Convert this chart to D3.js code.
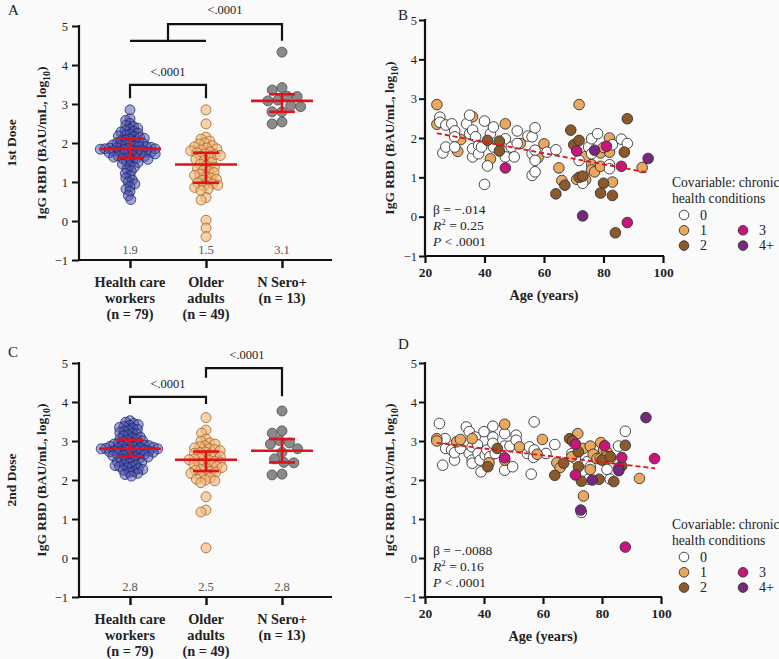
<!DOCTYPE html>
<html><head><meta charset="utf-8">
<script src="https://cdn.jsdelivr.net/npm/d3@7/dist/d3.min.js"></script>
<style>
body{margin:0;background:#fafafa;}
</style></head>
<body><svg id="c" width="779" height="659"></svg>
<script>
// ---------- DATA ----------
const groups = ["Health care workers","Older adults","N Sero+"];
const groupLines = [["Health care","workers","(n = 79)"],["Older","adults","(n = 49)"],["N Sero+","(n = 13)"]];
const yTicks = [-1,0,1,2,3,4,5];
const ageTicks = [20,40,60,80,100];

// Dose 1 (panel A)
const hcw1 = [2.85,2.62,2.58,2.5,2.45,2.42,2.38,2.35,2.32,2.3,2.28,2.25,2.22,2.2,2.18,2.16,2.14,2.12,2.1,2.08,2.06,2.04,2.02,2.0,1.99,1.97,1.96,1.95,1.93,1.92,1.91,1.9,1.89,1.88,1.87,1.86,1.85,1.85,1.84,1.83,1.82,1.81,1.8,1.79,1.78,1.77,1.76,1.75,1.74,1.72,1.71,1.7,1.68,1.67,1.65,1.64,1.62,1.61,1.6,1.58,1.55,1.52,1.5,1.46,1.42,1.38,1.33,1.28,1.22,1.15,1.1,1.05,1.0,0.95,0.88,0.82,0.76,0.65,0.55];
const old1 = [2.85,2.49,2.15,2.1,2.05,2.0,1.97,1.93,1.9,1.87,1.85,1.82,1.8,1.77,1.75,1.72,1.7,1.68,1.65,1.62,1.58,1.55,1.5,1.46,1.42,1.38,1.34,1.3,1.27,1.24,1.2,1.17,1.14,1.1,1.07,1.04,1.0,0.98,0.95,0.92,0.9,0.86,0.82,0.78,0.6,0.54,0.02,-0.18,-0.4];
const sero1 = [4.33,3.42,3.36,3.2,3.19,3.1,3.08,2.96,2.93,2.8,2.8,2.54,2.49];
const median1 = [1.85,1.45,3.08], q1_1 = [1.62,0.98,2.8], q3_1 = [2.12,1.75,3.25];
const label1 = ["1.9","1.5","3.1"];

// Dose 2 (panel C)
const hcw2 = [3.52,3.48,3.45,3.42,3.4,3.37,3.35,3.32,3.3,3.27,3.25,3.22,3.2,3.18,3.15,3.13,3.1,3.08,3.06,3.04,3.02,3.0,2.98,2.96,2.95,2.93,2.92,2.9,2.89,2.88,2.87,2.86,2.85,2.84,2.83,2.82,2.81,2.8,2.8,2.79,2.78,2.77,2.76,2.75,2.74,2.73,2.72,2.71,2.7,2.68,2.67,2.66,2.65,2.63,2.62,2.6,2.59,2.57,2.55,2.53,2.51,2.49,2.47,2.45,2.43,2.41,2.39,2.37,2.35,2.33,2.31,2.29,2.27,2.25,2.22,2.2,2.17,2.14,2.1];
const old2 = [3.6,3.28,3.2,3.05,3.0,2.95,2.92,2.88,2.85,2.82,2.8,2.78,2.75,2.72,2.7,2.68,2.65,2.62,2.6,2.58,2.56,2.54,2.52,2.5,2.48,2.46,2.44,2.42,2.4,2.37,2.35,2.32,2.3,2.27,2.25,2.22,2.2,2.17,2.14,2.1,2.06,2.02,2.0,1.98,1.93,1.57,1.23,1.18,0.26];
const sero2 = [3.77,3.26,3.2,3.01,2.95,2.92,2.8,2.71,2.54,2.45,2.44,2.15,2.13];
const median2 = [2.8,2.52,2.75], q1_2 = [2.6,2.23,2.45], q3_2 = [3.03,2.73,3.05];
const label2 = ["2.8","2.5","2.8"];

// Panel B: age, value, conditions category
const ageB = [24,24,36,32,31,47,42,52,60,58,71.8,65,66,74,76,76,77,71,74,79,79,82,82,80,83,93,
 25,25,26,27,27,29,30,30,30,34,35,35,36,36,36,37,38,38,39,40,40,41,42,43,43,47,47,47,49,50,51,51,54.6,56,56,56,57,57,57,57,61,64,71.8,73,75,76,76,78,82,82,83,86,88,
 41,45,45,64,67,69,70,71.8,71.8,73,80,79,83,84,88,87,
 47,71,81,86,88,
 77,73,95];
const valB = [2.85,2.35,2.54,1.96,1.66,2.36,1.47,1.86,1.85,1.5,2.85,1.24,0.92,1.53,1.32,1.19,1.14,0.95,0.94,1.62,1.28,2.0,1.64,1.76,0.88,1.25,
 2.53,2.4,1.62,1.77,2.33,2.36,2.18,2.03,1.77,2.36,2.58,2.11,1.52,1.73,2.2,2.03,1.81,1.6,1.77,2.43,0.82,1.29,2.11,2.28,1.77,1.98,1.64,1.52,1.77,1.52,2.18,1.86,2.05,2.03,1.6,1.05,2.26,1.69,1.43,1.14,1.64,1.7,1.43,0.85,1.77,1.98,1.6,2.11,1.32,1.22,1.83,1.97,1.86,
 1.94,1.92,1.67,0.58,0.8,2.2,1.83,1.94,1.0,1.03,0.85,0.6,0.54,-0.41,2.49,1.64,
 1.24,1.67,1.79,1.28,-0.15,
 1.69,0.02,1.48];
const catB = [1,1,1,1,1,1,1,1,1,1,1,1,1,1,1,1,1,1,1,1,1,1,1,1,1,1,
 0,0,0,0,0,0,0,0,0,0,0,0,0,0,0,0,0,0,0,0,0,0,0,0,0,0,0,0,0,0,0,0,0,0,0,0,0,0,0,0,0,0,0,0,0,0,0,0,0,0,0,0,0,
 2,2,2,2,2,2,2,2,2,2,2,2,2,2,2,2,
 3,3,3,3,3,
 4,4,4];
const fitB = {beta:"\u2212.014", r2:"0.25", x:[24,95], y:[2.12,1.12]};

// Panel D
const ageD = [24.9,26,26.8,27,29,30,30,32,34,35,35,36,36,36,37,37.8,38,38.7,39,40,40.4,41,42,43,43,43,43.8,47,47,47,48.8,49.7,50.9,50.9,54.7,55.4,56,56.8,57,57,61,64,69.8,71,75,76,75.5,81.7,82.8,85.6,87.9,73,
 24,24,30.7,32,36,47,47,52,41.7,59.8,58,64.7,65.8,69.8,71.8,73.7,73.7,76,76,77,78.3,79.6,79.4,80.5,81.7,82.8,92.7,81.7,
 41.3,44.5,67,64,69,70,72,72,73,79,80,82.8,84,86.7,87.9,
 47,71,71,80.9,86.7,85.7,87.9,97.8,
 72.8,76.7,85.7,94.9];
const valD = [3.45,2.38,3.06,2.81,2.77,2.51,2.7,2.81,3.36,3.24,2.68,2.85,2.51,2.43,3.1,2.9,2.68,2.51,2.21,3.24,2.64,2.77,2.6,3.38,3.1,2.94,2.68,3.19,2.87,2.25,2.87,2.34,3.15,3.02,2.68,2.85,2.15,2.58,3.49,2.77,2.68,2.91,2.68,2.55,2.47,2.34,2.02,2.27,2.02,2.87,3.25,1.17,
 3.06,3.0,2.98,3.04,3.06,3.43,2.51,2.85,2.44,3.04,2.66,2.44,2.32,2.6,3.19,2.81,1.59,2.87,2.27,2.66,2.55,2.96,2.55,2.77,2.72,2.55,2.04,2.6,
 2.34,2.81,2.43,2.12,3.06,3.0,2.72,2.34,1.97,2.02,2.51,2.6,1.96,2.36,2.89,
 2.57,2.92,2.13,2.88,2.58,2.31,0.28,2.55,
 1.23,2.0,2.24,3.6];
const catD = [0,0,0,0,0,0,0,0,0,0,0,0,0,0,0,0,0,0,0,0,0,0,0,0,0,0,0,0,0,0,0,0,0,0,0,0,0,0,0,0,0,0,0,0,0,0,0,0,0,0,0,0,
 1,1,1,1,1,1,1,1,1,1,1,1,1,1,1,1,1,1,1,1,1,1,1,1,1,1,1,1,
 2,2,2,2,2,2,2,2,2,2,2,2,2,2,2,
 3,3,3,3,3,3,3,3,
 4,4,4,4];
const fitD = {beta:"\u2212.0088", r2:"0.16", x:[24,98], y:[2.95,2.3]};

const condLabels = ["0","1","2","3","4+"];
const condColors = ["#ffffff","#e9a85f","#8c5a2a","#c8157c","#76287c"];
const groupFill = ["#4a52b0","#f6b878","#8a8a8a"];
const groupStroke = ["#1e2566","#9a6028","#4a4a4a"];
const groupOpacity = [0.5,0.62,1];
const swarmGap = [4.6,5.4,10];
const RED = "#e0121c";
const FONT = "'Liberation Serif', 'DejaVu Serif', serif";

// ---------- DRAW ----------
const svg = d3.select("#c").attr("font-family",FONT);
svg.append("rect").attr("width",779).attr("height",659).attr("fill","#fafafa");

function swarm(values, y, d){
  const pts = values.map(v=>({v, y:y(v)}));
  const order = pts.slice().sort((a,b)=>a.y-b.y);
  const placed=[];
  for(const p of order){
    const blocks=[];
    for(const q of placed){const dy=Math.abs(q.y-p.y); if(dy<d){const w=Math.sqrt(d*d-dy*dy); blocks.push([q.dx-w,q.dx+w]);}}
    const cands=[0]; blocks.forEach(b=>cands.push(b[0],b[1]));
    cands.sort((a,b)=>Math.abs(a)-Math.abs(b)||a-b);
    let dx=0;
    for(const c of cands){ if(blocks.every(b=>c<=b[0]+1e-6||c>=b[1]-1e-6)){dx=c;break;} }
    p.dx=dx; placed.push(p);
  }
  return placed;
}

function styleAxis(ax){ ax.attr("font-family",FONT); }

function yTitle(g,xx,yy){
  g.append("text").attr("transform",`translate(${xx},${yy}) rotate(-90)`).attr("text-anchor","middle")
    .attr("font-size",13.5).attr("font-weight","bold").attr("fill","#222")
    .call(t=>{t.append("tspan").text("IgG RBD (BAU/mL, log");t.append("tspan").attr("dy",4).attr("font-size",10).text("10");t.append("tspan").attr("dy",-4).text(")");});
}

function dotPanel(cfg){
  const g = svg.append("g");
  const y = d3.scaleLinear().domain([-1,5]).range([cfg.y0, cfg.y1]);
  const x = d3.scalePoint().domain(groups).range([130,282]);
  const ya = g.append("g").attr("transform","translate(79,0)").call(d3.axisLeft(y).tickValues(yTicks).tickSize(7).tickFormat(d=>d<0?"\u2212"+Math.abs(d):d));
  styleAxis(ya);
  ya.select(".domain").attr("stroke","#111").attr("stroke-width",2.2).attr("d",`M0,${cfg.y1-1}V${cfg.y0}`);
  ya.selectAll(".tick line").attr("stroke","#111").attr("stroke-width",2);
  ya.selectAll(".tick text").attr("font-size",12.5).attr("fill","#222").attr("x",-11);
  const xa = g.append("g").attr("transform",`translate(0,${cfg.y0})`).call(d3.axisBottom(x).tickSize(8).tickFormat(""));
  xa.select(".domain").attr("stroke","#111").attr("stroke-width",2.2).attr("d","M78,0H332");
  xa.selectAll(".tick line").attr("stroke","#111").attr("stroke-width",2.4);
  groups.forEach((gname,i)=>{
    groupLines[i].forEach((ln,j)=>{
      g.append("text").attr("x",x(gname)).attr("y",cfg.y0+27+j*16).attr("text-anchor","middle")
        .attr("font-size",14.3).attr("font-weight","bold").attr("fill","#222").text(ln);
    });
    g.append("text").attr("x",x(gname)).attr("y",y(-0.75)+4).attr("text-anchor","middle")
      .attr("font-size",12.5).attr("fill","#555").text(cfg.labels[i]);
  });
  cfg.data.forEach((vals,i)=>{
    const pts = swarm(vals,y,swarmGap[i]);
    g.append("g").selectAll("circle").data(pts).join("circle")
      .attr("cx",d=>x(groups[i])+d.dx).attr("cy",d=>d.y).attr("r",5)
      .attr("fill",groupFill[i]).attr("fill-opacity",groupOpacity[i])
      .attr("stroke",groupStroke[i]).attr("stroke-width",0.9).attr("stroke-opacity",0.85);
  });
  groups.forEach((gname,i)=>{
    const cx=x(gname);
    const eg=g.append("g").attr("stroke",RED).attr("stroke-width",2.6);
    eg.append("line").attr("x1",cx-31).attr("x2",cx+31).attr("y1",y(cfg.med[i])).attr("y2",y(cfg.med[i]));
    eg.append("line").attr("x1",cx).attr("x2",cx).attr("y1",y(cfg.q1[i])).attr("y2",y(cfg.q3[i]));
    eg.append("line").attr("x1",cx-13).attr("x2",cx+13).attr("y1",y(cfg.q1[i])).attr("y2",y(cfg.q1[i]));
    eg.append("line").attr("x1",cx-13).attr("x2",cx+13).attr("y1",y(cfg.q3[i])).attr("y2",y(cfg.q3[i]));
  });
  cfg.brackets(g,x,y);
  yTitle(g,cfg.titleX,y(2));
  g.append("text").attr("transform",`translate(16,${y(2)}) rotate(-90)`).attr("text-anchor","middle")
    .attr("font-size",13.5).attr("font-weight","bold").attr("fill","#222").text(cfg.dose);
  g.append("text").attr("x",8).attr("y",cfg.letterY).attr("font-size",15).attr("fill","#222").text(cfg.letter);
}

function bracketPath(g,d){
  g.append("path").attr("d",d).attr("fill","none").attr("stroke","#111").attr("stroke-width",2.2);
}
function pText(g,xx,yy){
  g.append("text").attr("x",xx).attr("y",yy).attr("text-anchor","middle").attr("font-size",12.5).attr("fill","#222").text("<.0001");
}

dotPanel({y0:260,y1:26,data:[hcw1,old1,sero1],med:median1,q1:q1_1,q3:q3_1,labels:label1,
  dose:"1st Dose",letter:"A",letterY:15,titleX:46,
  brackets:(g,x,y)=>{
    const a=x(groups[0]),b=x(groups[1]),c=x(groups[2]),m=(a+b)/2;
    bracketPath(g,`M${a},${y(3.15)}V${y(3.49)}H${b}V${y(3.15)}`);
    pText(g,m,y(3.82)+4);
    bracketPath(g,`M${a},${y(4.62)}H${b}M${m},${y(4.62)}V${y(5.05)}H${c}V${y(4.62)}`);
    pText(g,(m+c)/2,y(5.41)+4);
  }});
dotPanel({y0:597,y1:363,data:[hcw2,old2,sero2],med:median2,q1:q1_2,q3:q3_2,labels:label2,
  dose:"2nd Dose",letter:"C",letterY:357,titleX:46,
  brackets:(g,x,y)=>{
    const a=x(groups[0]),b=x(groups[1]),c=x(groups[2]);
    bracketPath(g,`M${a},${y(3.95)}V${y(4.13)}H${b}V${y(3.95)}`);
    pText(g,(a+b)/2,y(4.46)+4);
    bracketPath(g,`M${b},${y(4.62)}V${y(4.87)}H${c}V${y(4.15)}`);
    pText(g,(b+c)/2+3,y(5.2)+4);
  }});

function scatterPanel(cfg){
  const g=svg.append("g");
  const x=d3.scaleLinear().domain([20,100]).range([425,cfg.xr]);
  const y=d3.scaleLinear().domain([-1,5]).range([cfg.y0,cfg.y1]);
  const ya=g.append("g").attr("transform","translate(425,0)").call(d3.axisLeft(y).tickValues(yTicks).tickSize(6).tickFormat(d=>d<0?"\u2212"+Math.abs(d):d));
  styleAxis(ya);
  ya.select(".domain").attr("stroke","#111").attr("stroke-width",2.2).attr("d",`M0,${cfg.y1-1}V${cfg.y0+1}`);
  ya.selectAll(".tick line").attr("stroke","#111").attr("stroke-width",2);
  ya.selectAll(".tick text").attr("font-size",12.5).attr("fill","#222").attr("x",-8);
  const xa=g.append("g").attr("transform",`translate(0,${cfg.y0})`).call(d3.axisBottom(x).tickValues(ageTicks).tickSize(7));
  styleAxis(xa);
  xa.select(".domain").attr("stroke","#111").attr("stroke-width",2.2).attr("d",`M424,0H${cfg.xr+1}`);
  xa.selectAll(".tick line").attr("stroke","#111").attr("stroke-width",2.2);
  xa.selectAll(".tick text").attr("font-size",13.5).attr("font-weight","bold").attr("fill","#222").attr("y",11);
  g.append("text").attr("x",x(60)).attr("y",cfg.y0+44).attr("text-anchor","middle").attr("font-size",14.2).attr("font-weight","bold").attr("fill","#222").text("Age (years)");
  yTitle(g,cfg.titleX,y(2));
  g.append("text").attr("x",398).attr("y",cfg.letterY).attr("font-size",15).attr("fill","#222").text(cfg.letter);
  const pts=cfg.age.map((a,i)=>({a,v:cfg.val[i],c:cfg.cat[i]}));
  g.append("g").selectAll("circle").data(pts).join("circle")
    .attr("cx",d=>x(d.a)).attr("cy",d=>y(d.v)).attr("r",5.3)
    .attr("fill",d=>condColors[d.c]).attr("stroke","#333").attr("stroke-width",0.9);
  g.append("line").attr("x1",x(cfg.fit.x[0])).attr("x2",x(cfg.fit.x[1])).attr("y1",y(cfg.fit.y[0])).attr("y2",y(cfg.fit.y[1]))
    .attr("stroke",RED).attr("stroke-width",1.8).attr("stroke-dasharray","5,3");
  const sx=433;
  g.append("text").attr("x",sx).attr("y",cfg.statY).attr("font-size",13.5).attr("fill","#222").text("\u03b2 = "+cfg.fit.beta);
  g.append("text").attr("x",sx).attr("y",cfg.statY+16).attr("font-size",13.5).attr("fill","#222")
    .call(t=>{t.append("tspan").attr("font-style","italic").text("R");t.append("tspan").attr("dy",-5).attr("font-size",9).text("2");t.append("tspan").attr("dy",5).text(" = "+cfg.fit.r2);});
  g.append("text").attr("x",sx).attr("y",cfg.statY+32).attr("font-size",13.5).attr("fill","#222")
    .call(t=>{t.append("tspan").attr("font-style","italic").text("P");t.append("tspan").text(" < .0001");});
  const lx=672, ly=cfg.legY;
  g.append("text").attr("x",lx).attr("y",ly).attr("font-size",13.6).attr("fill","#222").text("Covariable: chronic");
  g.append("text").attr("x",lx).attr("y",ly+16).attr("font-size",13.6).attr("fill","#222").text("health conditions");
  const pos=[[684,0],[684,1],[684,2],[743,1],[743,2]];
  condLabels.forEach((lab,i)=>{
    const cy=ly+28+pos[i][1]*15.3;
    g.append("circle").attr("cx",pos[i][0]).attr("cy",cy).attr("r",4.8).attr("fill",condColors[i]).attr("stroke","#333").attr("stroke-width",0.9);
    g.append("text").attr("x",pos[i][0]+16).attr("y",cy+4.5).attr("font-size",14).attr("fill","#222").text(lab);
  });
}
scatterPanel({xr:663,y0:256,y1:20,age:ageB,val:valB,cat:catB,fit:fitB,letter:"B",letterY:20,titleX:394,statY:214,legY:187});
scatterPanel({xr:661,y0:597,y1:363,age:ageD,val:valD,cat:catD,fit:fitD,letter:"D",letterY:349,titleX:394,statY:555,legY:529});
</script></body></html>
